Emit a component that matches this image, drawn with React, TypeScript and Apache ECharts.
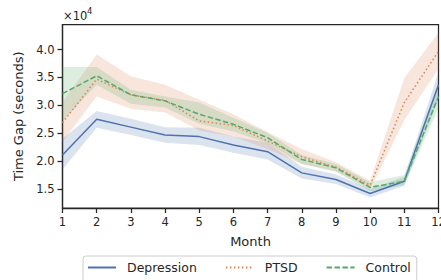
import React, { useEffect, useRef } from "react";
import * as echarts from "echarts";

const months = [1, 2, 3, 4, 5, 6, 7, 8, 9, 10, 11, 12];

const depression = [21100, 27500, 26100, 24700, 24400, 22900, 21700, 17900, 16700, 14200, 16400, 33700];
const depressionLo = [18500, 26000, 24700, 23300, 22900, 21500, 20300, 16900, 15900, 13500, 15600, 31000];
const depressionHi = [24000, 29000, 27600, 26100, 26000, 24400, 23300, 19000, 17600, 15000, 17200, 36000];

const ptsd = [26900, 34700, 31900, 30900, 27200, 26400, 23600, 20800, 18900, 15700, 30500, 39700];
const ptsdLo = [23500, 31600, 29400, 28700, 25500, 24400, 22200, 19500, 18200, 15000, 27400, 36500];
const ptsdHi = [30500, 39100, 35200, 33700, 31000, 28400, 25200, 22200, 19800, 16500, 34900, 43000];

const control = [32100, 35300, 31900, 30800, 28400, 26600, 24200, 20300, 18800, 15300, 16400, 31600];
const controlLo = [27200, 33700, 30300, 29600, 26700, 25300, 23200, 19500, 18100, 14600, 15700, 29500];
const controlHi = [36900, 36900, 32800, 31600, 30500, 27800, 25100, 21100, 19500, 16200, 17500, 34000];

const yTicks = [15000, 20000, 25000, 30000, 35000, 40000];

const INK = "#262626";
const BLUE = "#4C72B0";
const ORANGE = "#DD8452";
const GREEN = "#55A868";

function band(name: string, lo: number[], hi: number[], color: string) {
  return {
    type: "custom",
    name: name + "-band",
    silent: true,
    z: 1,
    data: months.map((m, i) => [m, lo[i], hi[i]]),
    encode: { x: 0, y: [1, 2] },
    renderItem: (params: any, api: any) => {
      if (params.dataIndex !== 0) return null;
      const pts: number[][] = [];
      for (let i = 0; i < months.length; i++) pts.push(api.coord([months[i], hi[i]]));
      for (let i = months.length - 1; i >= 0; i--) pts.push(api.coord([months[i], lo[i]]));
      return {
        type: "polygon",
        shape: { points: pts },
        style: { fill: color, opacity: 0.2 },
      };
    },
  };
}

function line(name: string, vals: number[], color: string, type: any) {
  return {
    type: "line",
    name,
    z: 3,
    symbol: "none",
    data: months.map((m, i) => [m, vals[i]]),
    lineStyle: { color, width: 1.5, type, cap: "butt" },
    itemStyle: { color },
  };
}

export default function App() {
  const ref = useRef<HTMLDivElement>(null);
  useEffect(() => {
    if (!ref.current) return;
    const chart = echarts.init(ref.current, null, { renderer: "svg" });
    chart.setOption({
      animation: false,
      textStyle: { fontFamily: "DejaVu Sans" },
      grid: {
        left: 62.5,
        right: 2.5,
        top: 24.5,
        bottom: 72,
        show: true,
        borderColor: INK,
        borderWidth: 1.25,
        backgroundColor: "transparent",
        containLabel: false,
        outerBoundsMode: "none",
      },
      xAxis: {
        type: "value",
        min: 1,
        max: 12,
        interval: 1,
        name: "Month",
        nameLocation: "middle",
        nameGap: 27,
        nameTextStyle: { fontSize: 13, color: INK, fontFamily: "DejaVu Sans" },
        axisLine: { show: true, lineStyle: { color: INK, width: 1.25 } },
        axisTick: { show: true, inside: false, length: 5, lineStyle: { color: INK, width: 1.25 } },
        axisLabel: {
          fontSize: 11.5,
          color: INK,
          margin: 8,
          fontFamily: "DejaVu Sans",
          hideOverlap: false,
        },
        splitLine: { show: false },
      },
      yAxis: {
        type: "value",
        min: 11600,
        max: 44500,
        name: "Time Gap (seconds)",
        nameLocation: "middle",
        nameGap: 38,
        nameTextStyle: { fontSize: 13, color: INK, fontFamily: "DejaVu Sans" },
        axisLine: { show: true, lineStyle: { color: INK, width: 1.25 } },
        axisTick: {
          show: true,
          inside: false,
          length: 5,
          customValues: yTicks,
          lineStyle: { color: INK, width: 1.25 },
        },
        axisLabel: {
          fontSize: 11.5,
          color: INK,
          margin: 8,
          fontFamily: "DejaVu Sans",
          customValues: yTicks,
          formatter: (v: number) => (v / 10000).toFixed(1),
        },
        splitLine: { show: false },
      },
      legend: {
        data: ["Depression", "PTSD", "Control"],
        left: 83,
        top: 256,
        orient: "horizontal",
        itemWidth: 28,
        itemHeight: 14,
        itemGap: 28,
        padding: [5, 6, 14, 4],
        borderColor: "#cccccc",
        borderWidth: 1,
        borderRadius: 3,
        backgroundColor: "#ffffff",
        itemStyle: { opacity: 0 },
        textStyle: { fontSize: 12.5, color: INK, fontFamily: "DejaVu Sans", padding: [0, 0, 0, 6] },
      },
      graphic: [
        {
          type: "text",
          left: 63,
          top: 10,
          style: { text: "×10", fontSize: 11.5, fill: INK, fontFamily: "DejaVu Sans" },
        },
        {
          type: "text",
          left: 87,
          top: 6,
          style: { text: "4", fontSize: 8.5, fill: INK, fontFamily: "DejaVu Sans" },
        },
      ],
      series: [
        band("Depression", depressionLo, depressionHi, BLUE),
        band("PTSD", ptsdLo, ptsdHi, ORANGE),
        band("Control", controlLo, controlHi, GREEN),
        line("Depression", depression, BLUE, "solid"),
        line("PTSD", ptsd, ORANGE, [1.5, 2.5]),
        line("Control", control, GREEN, [5.5, 2.4]),
      ],
    });
    return () => chart.dispose();
  }, []);
  return (
    <div
      ref={ref}
      style={{ position: "absolute", left: 0, top: 0, width: 441, height: 280 }}
    />
  );
}
